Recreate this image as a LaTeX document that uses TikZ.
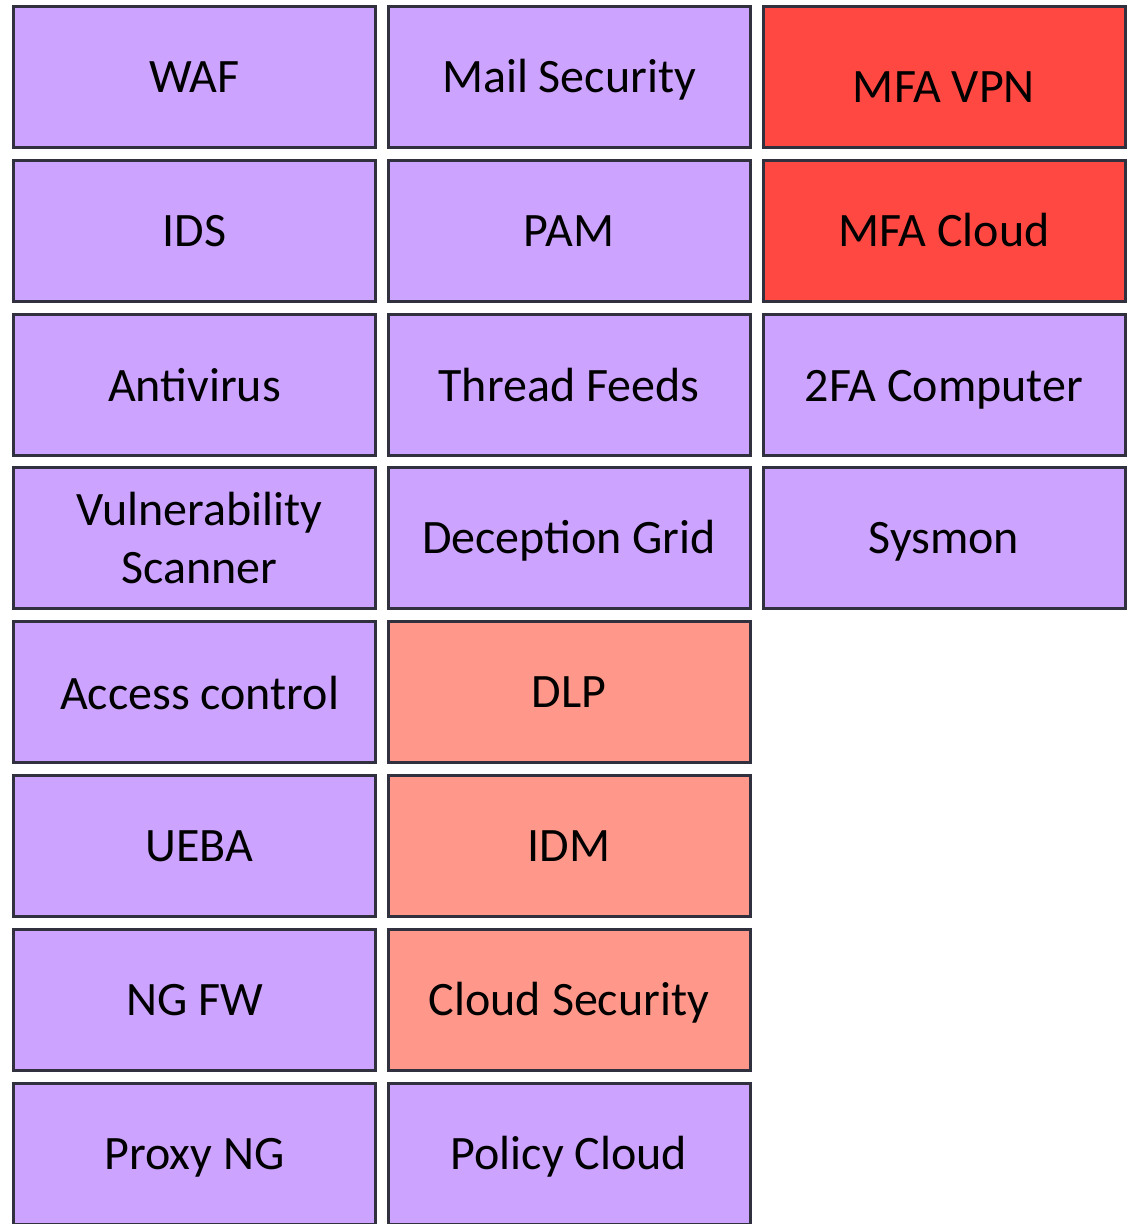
\documentclass[tikz,border=0pt]{standalone}
\usepackage{fontspec}
\setmainfont{Carlito}
\definecolor{boxpurple}{HTML}{CCA3FF}
\definecolor{boxred}{HTML}{FF4842}
\definecolor{boxsalmon}{HTML}{FF978A}
\definecolor{boxedge}{HTML}{30303F}
\begin{document}
\begin{tikzpicture}[x=1pt,y=-1pt,
  cellbase/.style={draw=boxedge, line width=3pt, minimum width=362pt, minimum height=141pt,
    inner sep=0pt, outer sep=0pt, align=center, font=\fontsize{48}{58}\selectfont, text=black},
  cell/.style={cellbase, text height=31pt, text depth=0pt},
  lowtext/.style={text height=34pt},
  pcell/.style={cell, fill=boxpurple},
  rcell/.style={cell, fill=boxred},
  scell/.style={cell, fill=boxsalmon}]
\useasboundingbox (0,0) rectangle (1140,1224);
\clip (0,0) rectangle (1140,1224);
% column 1
\node[pcell] (waf)   at (194.5,77)    {WAF};
\node[pcell] (ids)   at (194.5,230.8) {IDS};
\node[pcell, lowtext] (av) at (194.5,384.6) {Antivirus};
\node[cellbase, fill=boxpurple] (vs) at (194.5,538.4) {\hspace*{10pt}Vulnerability\\\hspace*{10pt}Scanner};
\node[pcell, lowtext] (ac) at (194.5,692.2) {\hspace*{10pt}Access control};
\node[pcell] (ueba)  at (194.5,846)   {\hspace*{10pt}UEBA};
\node[pcell] (ngfw)  at (194.5,999.8) {NG FW};
\node[pcell] (proxy) at (194.5,1153.6){Proxy NG};
% column 2
\node[pcell] (mail)  at (569,77)    {Mail Security};
\node[pcell] (pam)   at (569,230.8) {PAM};
\node[pcell, lowtext] (tf) at (569,384.6) {Thread Feeds};
\node[pcell] (dg)    at (569,538.4) {Deception Grid};
\node[scell] (dlp)   at (569,692.2) {DLP};
\node[scell] (idm)   at (569,846)   {IDM};
\node[scell] (cs)    at (569,999.8) {Cloud Security};
\node[pcell] (pc)    at (569,1153.6){Policy Cloud};
% column 3
\node[rcell] (mfavpn) at (944,77)    {\raisebox{-10pt}{MFA VPN}};
\node[rcell] (mfacl)  at (944,230.8) {MFA Cloud};
\node[pcell, lowtext] (tfa) at (944,384.6) {2FA Computer};
\node[pcell] (sysmon) at (944,538.4) {Sysmon};
\end{tikzpicture}
\end{document}
